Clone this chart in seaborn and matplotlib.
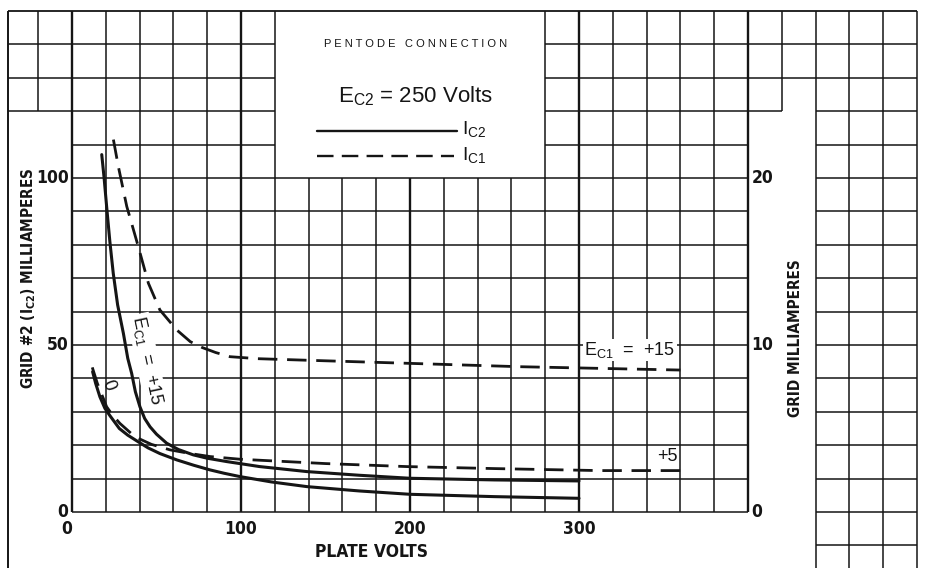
import warnings
import numpy as np
import pandas as pd
import matplotlib
matplotlib.use("Agg")
import matplotlib.pyplot as plt
import seaborn as sns

warnings.filterwarnings("ignore")

# screen grid current Ic2 (left scale, mA) vs plate volts
c2_p15_volts = [17.6, 19, 20.5, 22.4, 24.4, 27, 30.4, 33, 35.3, 37.5, 40.2, 43, 46.2, 50, 56, 63,
                71.8, 80, 91.5, 111, 139, 170, 200, 250, 300]
c2_p15_ma = [107, 100, 91.4, 81, 71.5, 62, 53.5, 46, 41.5, 36, 31.5, 28, 25.5, 23.3, 20.6, 18.7,
             17.1, 16.1, 15.1, 13.6, 12.1, 11, 10.1, 9.6, 9.3]
c2_0_volts = [12.2, 14, 16.5, 19.5, 22.5, 28, 33, 38.3, 45, 52, 62, 72, 81.7, 90, 99.4, 118, 139,
              170, 200, 250, 300]
c2_0_ma = [42, 38.5, 34.5, 31, 28.8, 25, 23, 21.3, 19.2, 17.5, 15.6, 14, 12.6, 11.6, 10.6, 9, 7.6,
           6.3, 5.3, 4.6, 4.1]

# control grid current Ic1 (right scale, mA) vs plate volts
c1_p15_volts = [24.5, 27.4, 32.4, 39.2, 45.2, 52, 62, 70, 77, 85, 93.5, 110, 135, 200, 265, 360]
c1_p15_ma = [22.3, 20.7, 18.3, 15.9, 13.7, 12.1, 10.9, 10.2, 9.85, 9.55, 9.3, 9.18, 9.1, 8.9, 8.7, 8.5]
c1_p5_volts = [12, 15, 20.5, 24, 28.4, 37.3, 47, 58, 70, 81.7, 99.4, 111, 150, 198, 250, 312, 360]
c1_p5_ma = [8.66, 7.7, 6.3, 5.8, 5.3, 4.5, 4.05, 3.72, 3.5, 3.32, 3.16, 3.1, 2.9, 2.72, 2.6, 2.48, 2.48]

x_ticks = [0, 100, 200, 300]
left_ticks = [0, 50, 100]
right_ticks = [0, 10, 20]

INK = "#151515"
HAND = ["Liberation Sans", "DejaVu Sans"]

sns.set_style("white")
plt.rcParams["font.family"] = HAND
plt.rcParams["mathtext.fontset"] = "custom"

fig = plt.figure(figsize=(9.31, 5.68), dpi=100, facecolor="white")
ax = fig.add_axes([0, 0, 1, 1])
XL = (-72 / 1.69, (931 - 72) / 1.69)
YL = ((512 - 568) / 3.34, 512 / 3.34)
ax.set_xlim(*XL)
ax.set_ylim(*YL)
ax.axis("off")


def vseg(x, y0, y1, lw=1.1):
    ax.vlines(x, y0, y1, color=INK, lw=lw, zorder=1)


def hseg(y, x0, x1, lw=1.1):
    ax.hlines(y, x0, x1, color=INK, lw=lw, zorder=1)


# graph paper: vertical lines
for x in range(-40, 501, 20):
    lw = 1.7 if x in (0, 100, 200, 300, 400) else 1.1
    if x == -40:
        vseg(-38, YL[0], 150, lw=1.4)
    elif x == -20:
        vseg(x, 120, 150, lw)
    elif 120 < x < 280:
        vseg(x, 0, 100, lw)
    elif x <= 400:
        vseg(x, 0, 150, lw)
    elif x == 420:
        vseg(x, 120, 150, lw)
    else:
        vseg(x, YL[0], 150, lw)

# graph paper: horizontal lines
for y in range(0, 151, 10):
    if y <= 100:
        hseg(y, 0, 400)
        hseg(y, 440, 500)
    elif y == 110:
        hseg(y, 0, 120)
        hseg(y, 280, 400)
        hseg(y, 440, 500)
    elif y == 120:
        hseg(y, -38, 120)
        hseg(y, 280, 420)
        hseg(y, 440, 500)
    elif y < 150:
        hseg(y, -38, 120)
        hseg(y, 280, 500)
    else:
        hseg(y, -38, 500, lw=1.3)
hseg(-10, 440, 500)

# curves
df_c2 = pd.concat([
    pd.DataFrame({"volts": c2_p15_volts, "ma": c2_p15_ma, "ec1": "+15"}),
    pd.DataFrame({"volts": c2_0_volts, "ma": c2_0_ma, "ec1": "0"}),
])
sns.lineplot(data=df_c2, x="volts", y="ma", units="ec1", estimator=None, sort=False,
             color=INK, lw=2.2, ax=ax, zorder=3)

ax2 = ax.twinx()
ax2.set_ylim(YL[0] / 5, YL[1] / 5)
ax2.axis("off")
for v, m in [(c1_p15_volts, c1_p15_ma), (c1_p5_volts, c1_p5_ma)]:
    sns.lineplot(x=v, y=m, sort=False, color=INK, lw=2.0, ax=ax2, zorder=3,
                 dashes=False, linestyle=(0, (7, 3.5)))
ax2.set_xlim(*XL)

# tick labels
tk = dict(fontfamily=["DejaVu Sans"], fontstretch="condensed", fontweight="bold",
          fontsize=12.5, color=INK)
for x in x_ticks:
    ax.text(x - (3 if x == 0 else 0), -2.5, str(x), ha="center", va="top", **tk)
for y in left_ticks:
    ax.text(-2, y, str(y), ha="right", va="center", **tk)
for y in right_ticks:
    ax2.text(402, y, str(y), ha="left", va="center", **tk)

lab = dict(tk, fontsize=11)
ax.text(177, -9.3, "PLATE VOLTS", ha="center", va="top", **dict(lab, fontsize=12.5))
ax.text(-25.5, 70, r"GRID #2 (I$_{\mathregular{C2}}$) MILLIAMPERES", rotation=90,
        ha="center", va="center", **lab)
ax.text(428, 52, "GRID MILLIAMPERES", rotation=90, ha="center", va="center", **lab)

# legend box
ax.text(203, 140, "P E N T O D E   C O N N E C T I O N", ha="center", va="center",
        fontsize=8, color=INK)
ax.text(203, 124.5, r"E$_{\mathregular{C2}}$ = 250 Volts", ha="center", va="center",
        fontsize=16, color=INK)
ax.plot([145, 228], [114, 114], color=INK, lw=1.7)
ax.plot([145, 226], [106.5, 106.5], color=INK, lw=1.7, ls=(0, (7, 3.5)))
ax.text(231, 114.5, r"I$_{\mathregular{C2}}$", ha="left", va="center", fontsize=14, color=INK)
ax.text(231, 106.5, r"I$_{\mathregular{C1}}$", ha="left", va="center", fontsize=14, color=INK)

# curve labels
bg = dict(facecolor="white", edgecolor="none", pad=1.0)
ax.text(44.5, 45.5, r"E$_{\mathregular{C1}}$  =  +15", rotation=-78, ha="center", va="center",
        fontsize=13, color=INK, bbox=bg, zorder=2)
ax.text(21.5, 38, "0", rotation=-70, ha="center", va="center", fontsize=13, color=INK, zorder=4)
ax.text(330, 48.5, r"E$_{\mathregular{C1}}$  =  +15", ha="center", va="center",
        fontsize=13, color=INK, bbox=bg, zorder=2)
ax.text(352, 16.5, "+5", ha="center", va="center", fontsize=13, color=INK, bbox=bg, zorder=2)

fig.savefig("out.png", dpi=100, facecolor="white")
